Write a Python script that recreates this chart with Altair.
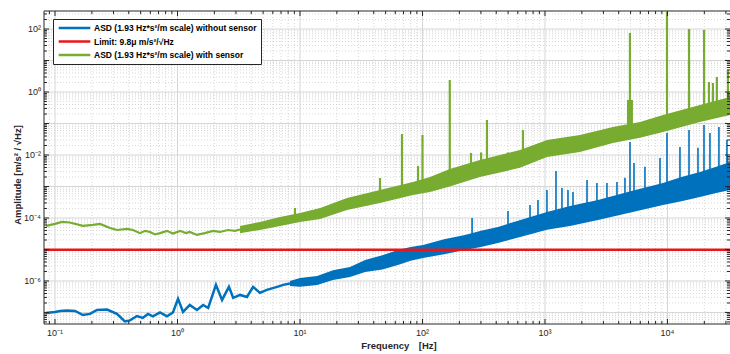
import altair as alt
import pandas as pd

# ---------------- data ----------------
SERIES = ["ASD (1.93 Hz*s\u00b2/m scale) without sensor",
          "Limit: 9.8\u03bc m/s\u00b2/\u221aHz",
          "ASD (1.93 Hz*s\u00b2/m scale) with sensor"]
COLORS = ["#0072BD", "#E8161B", "#77AC30"]
LIMIT = [9.8e-6]

# blue, low-frequency part (a single line)
blue_line_f = [0.0845, 0.1, 0.110, 0.125, 0.146, 0.169, 0.193, 0.220, 0.266, 0.32,
               0.372, 0.409, 0.467, 0.52, 0.574, 0.63, 0.72, 0.82, 0.918, 1.01,
               1.11, 1.26, 1.44, 1.62, 1.78, 2.06, 2.31, 2.63, 2.85, 3.24,
               3.69, 4.14, 4.71, 5.36, 6.5, 7.3, 8.28]
blue_line_a = [9.6e-8, 1.04e-7, 1.12e-7, 1.16e-7, 1.12e-7, 8.3e-8, 9.0e-8, 1.2e-7, 1.24e-7, 9.0e-8,
               5.2e-8, 5.6e-8, 7.7e-8, 6.7e-8, 9.0e-8, 7.5e-8, 1.0e-7, 7.5e-8, 1.0e-7, 2.7e-7,
               1.04e-7, 1.73e-7, 1.2e-7, 1.73e-7, 1.39e-7, 7.5e-7, 2.5e-7, 6.5e-7, 2.9e-7, 3.6e-7,
               3.1e-7, 6.5e-7, 4.2e-7, 5.2e-7, 6.5e-7, 7.5e-7, 8.3e-7]

# blue, noisy part (lower / upper envelope)
blue_band_f = [8.28, 10, 13.8, 18.6, 25.6, 34, 47, 63, 80, 101, 150, 222, 300, 413, 650, 1038,
               1600, 2710, 5000, 9190, 13000, 18400, 25000, 32400]
blue_band_lo = [6.9e-7, 6.5e-7, 7.5e-7, 1.08e-6, 1.34e-6, 1.93e-6, 2.3e-6, 3.2e-6, 4.4e-6, 5.4e-6,
                7.0e-6, 9.6e-6, 1.2e-5, 1.61e-5, 2.6e-5, 4.2e-5, 5.6e-5, 8.6e-5, 1.5e-4, 2.6e-4,
                3.4e-4, 4.6e-4, 6.2e-4, 7.7e-4]
blue_band_hi = [1.0e-6, 1.24e-6, 1.44e-6, 2.2e-6, 2.8e-6, 4.6e-6, 6.5e-6, 9.6e-6, 1.2e-5, 1.39e-5,
                2.1e-5, 2.9e-5, 3.9e-5, 5.2e-5, 9.0e-5, 1.55e-4, 2.4e-4, 3.7e-4, 7.0e-4, 1.29e-3,
                2.0e-3, 2.9e-3, 4.2e-3, 6.0e-3]

# blue spikes
blue_spike_f = [254, 499, 755, 877, 1038, 1230, 1376, 1541, 1693, 2204, 2656, 3206, 3870,
                4498, 4943, 5330, 6550, 8690, 9910, 12650, 14990, 17750, 19870, 22230, 26310, 30600]
blue_spike_top = [1.0e-4, 1.67e-4, 2.6e-4, 3.7e-4, 7.7e-4, 3.1e-3, 8.9e-4, 7.7e-4, 6.7e-4, 1.6e-3,
                  1.3e-3, 1.3e-3, 1.4e-3, 1.9e-3, 2.6e-2, 5.6e-3, 4.2e-3, 8.0e-3, 5.0e-2, 1.8e-2,
                  6.2e-2, 1.7e-2, 8.9e-2, 5.0e-2, 7.7e-2, 3.0e-2]
blue_spike_base = [1.5e-5, 3e-5, 4e-5, 5e-5, 7e-5, 8e-5, 9e-5, 1e-4, 1.1e-4, 1.4e-4, 1.6e-4, 1.8e-4,
                   2.2e-4, 2.5e-4, 2.7e-4, 3e-4, 3.5e-4, 4.5e-4, 5e-4, 6e-4, 7e-4, 8e-4, 9e-4,
                   1.0e-3, 1.2e-3, 1.4e-3]

# green, low-frequency part
green_line_f = [0.0845, 0.1, 0.114, 0.132, 0.169, 0.204, 0.233, 0.281, 0.321, 0.387,
                0.433, 0.494, 0.543, 0.597, 0.655, 0.72, 0.82, 0.918, 1.05, 1.17,
                1.26, 1.44, 1.67, 1.95, 2.22, 2.58, 2.95, 3.24]
green_line_a = [5.6e-5, 6.5e-5, 7.5e-5, 7.2e-5, 5.6e-5, 6.0e-5, 6.5e-5, 4.8e-5, 4.15e-5, 4.5e-5,
                4.15e-5, 3.3e-5, 3.9e-5, 3.6e-5, 3.0e-5, 3.3e-5, 3.9e-5, 3.2e-5, 3.9e-5, 3.3e-5,
                3.6e-5, 2.9e-5, 3.3e-5, 3.9e-5, 3.6e-5, 4.15e-5, 3.9e-5, 4.3e-5]

# green, noisy part
green_band_f = [3.24, 4.71, 6.87, 10, 14.6, 24.2, 45, 83.6, 115, 167, 294, 625, 1038, 1930,
                3590, 5970, 9190, 18400, 32400]
green_band_lo = [3.3e-5, 4.15e-5, 5.6e-5, 7.5e-5, 9.3e-5, 1.79e-4, 3.0e-4, 5.4e-4, 6.7e-4, 1.0e-3,
                 2.0e-3, 3.9e-3, 8.6e-3, 1.24e-2, 2.4e-2, 3.5e-2, 5.4e-2, 0.112, 0.186]
green_band_hi = [5.6e-5, 7.5e-5, 1.08e-4, 1.44e-4, 2.07e-4, 4.3e-4, 7.7e-4, 1.39e-3, 2.0e-3, 3.6e-3,
                 6.9e-3, 1.44e-2, 3.0e-2, 4.3e-2, 7.7e-2, 0.112, 0.186, 0.386, 0.69]

# green spikes
green_spike_f = [9.1, 45, 68, 92, 100, 167, 249, 301, 336, 499, 661, 828, 4940, 9910,
                 15000, 19900, 21800, 23500, 25300, 31200]
green_spike_top = [2.07e-4, 1.86e-3, 4.6e-2, 4.5e-3, 4.3e-2, 2.4, 1.16e-2, 1.2e-2, 0.129, 1.2e-2,
                   6.2e-2, 2.07e-2, 75, 350, 100, 93, 2.07, 1.93, 3.0, 5.0]
green_spike_base = [1.1e-4, 5e-4, 9e-4, 1.0e-3, 1.1e-3, 2e-3, 3e-3, 3.5e-3, 3.7e-3, 5e-3,
                    6e-3, 8e-3, 4e-2, 8e-2, 0.1, 0.15, 0.15, 0.2, 0.2, 0.3]
# broad foot of the 5 kHz green peak
green_foot_f = [4940]
green_foot_base = [4e-2]
green_foot_top = [0.56]

# axes
X_DOMAIN = [0.0813, 32400]
Y_DOMAIN = [4.3e-8, 373]
x_tick_values = [0.1, 1, 10, 100, 1000, 10000]
x_tick_labels = ["10\u207b\u00b9", "10\u2070", "10\u00b9", "10\u00b2", "10\u00b3", "10\u2074"]
y_tick_values = [1e2, 1, 1e-2, 1e-4, 1e-6]
y_tick_labels = ["10\u00b2", "10\u2070", "10\u207b\u00b2", "10\u207b\u2074", "10\u207b\u2076"]
X_TITLE = "Frequency\u2003[Hz]"
Y_TITLE = "Amplitude [m/s\u00b2 / \u221aHz]"
x_major = [10.0 ** k for k in range(-1, 5)]
x_minor = [m * 10.0 ** k for k in range(-2, 5) for m in range(2, 10)
           if X_DOMAIN[0] <= m * 10.0 ** k <= X_DOMAIN[1]]
y_major = [10.0 ** k for k in range(-7, 3)]
y_minor = [m * 10.0 ** k for k in range(-8, 3) for m in range(2, 10)
           if Y_DOMAIN[0] <= m * 10.0 ** k <= Y_DOMAIN[1]]

# ---------------- chart ----------------
W, H = 686, 313
FONT = "Liberation Sans"
AX = "#262626"

xs = alt.Scale(type="log", domain=X_DOMAIN, nice=False)
ys = alt.Scale(type="log", domain=Y_DOMAIN, nice=False)
cs = alt.Scale(domain=SERIES, range=COLORS)

legend = alt.Legend(title=None, orient="none", legendX=9, legendY=8, direction="vertical",
                    strokeColor=AX, fillColor="white", padding=4, symbolType="stroke",
                    symbolSize=1000, symbolStrokeWidth=2.5, labelFont=FONT, labelFontSize=8.5,
                    labelFontWeight="bold", labelColor="black", labelLimit=500, rowPadding=3.5,
                    labelOffset=2, clipHeight=10)


def vdf(vals):
    return pd.DataFrame({"v": vals})


def X(field):
    return alt.X(field, scale=xs, axis=None)


def Y(field):
    return alt.Y(field, scale=ys, axis=None)


grid_minor_x = alt.Chart(vdf(x_minor)).mark_rule(color="#c8c8c8", strokeWidth=0.7, strokeDash=[1, 2]).encode(x=X("v:Q"))
grid_minor_y = alt.Chart(vdf(y_minor)).mark_rule(color="#c8c8c8", strokeWidth=0.7, strokeDash=[1, 2]).encode(y=Y("v:Q"))
grid_major_x = alt.Chart(vdf(x_major)).mark_rule(color="#d6d6d6", strokeWidth=1).encode(x=X("v:Q"))
grid_major_y = alt.Chart(vdf(y_major)).mark_rule(color="#d6d6d6", strokeWidth=1).encode(y=Y("v:Q"))

blue_band = alt.Chart(pd.DataFrame({"f": blue_band_f, "lo": blue_band_lo, "hi": blue_band_hi})).mark_area(
    color=COLORS[0], opacity=1).encode(x=X("f:Q"), y=Y("lo:Q"), y2="hi:Q")
blue_spikes = alt.Chart(pd.DataFrame({"f": blue_spike_f, "b": blue_spike_base, "t": blue_spike_top})).mark_rule(
    color=COLORS[0], strokeWidth=1.6).encode(x=X("f:Q"), y=Y("b:Q"), y2="t:Q")
blue_line = alt.Chart(pd.DataFrame({"f": blue_line_f, "a": blue_line_a, "s": SERIES[0]})).mark_line(
    strokeWidth=2.5).encode(x=X("f:Q"), y=Y("a:Q"), color=alt.Color("s:N", scale=cs, legend=legend))

limit = alt.Chart(pd.DataFrame({"a": LIMIT, "s": [SERIES[1]]})).mark_rule(strokeWidth=2.5).encode(
    y=Y("a:Q"), color=alt.Color("s:N", scale=cs, legend=legend))

green_band = alt.Chart(pd.DataFrame({"f": green_band_f, "lo": green_band_lo, "hi": green_band_hi})).mark_area(
    color=COLORS[2], opacity=1).encode(x=X("f:Q"), y=Y("lo:Q"), y2="hi:Q")
green_spikes = alt.Chart(pd.DataFrame({"f": green_spike_f, "b": green_spike_base, "t": green_spike_top})).mark_rule(
    color=COLORS[2], strokeWidth=2.2).encode(x=X("f:Q"), y=Y("b:Q"), y2="t:Q")
green_foot = alt.Chart(pd.DataFrame({"f": green_foot_f, "b": green_foot_base, "t": green_foot_top})).mark_rule(
    color=COLORS[2], strokeWidth=6).encode(x=X("f:Q"), y=Y("b:Q"), y2="t:Q")
green_line = alt.Chart(pd.DataFrame({"f": green_line_f, "a": green_line_a, "s": SERIES[2]})).mark_line(
    strokeWidth=2.2).encode(x=X("f:Q"), y=Y("a:Q"), color=alt.Color("s:N", scale=cs, legend=legend))


def xticks(vals, y0, y1):
    return alt.Chart(vdf(vals)).mark_rule(color=AX, strokeWidth=1).encode(
        x=X("v:Q"), y=alt.value(y0), y2=alt.value(y1))


def yticks(vals, x0, x1):
    return alt.Chart(vdf(vals)).mark_rule(color=AX, strokeWidth=1).encode(
        y=Y("v:Q"), x=alt.value(x0), x2=alt.value(x1))


ticks = [
    xticks(x_major, H, H - 5), xticks(x_minor, H, H - 3),
    xticks(x_major, 0, 5), xticks(x_minor, 0, 3),
    yticks(y_major, 0, 5), yticks(y_minor, 0, 3),
    yticks(y_major, W, W - 5), yticks(y_minor, W, W - 3),
]

one = pd.DataFrame({"k": [0]})
frame = [
    alt.Chart(one).mark_rule(color=AX, strokeWidth=1).encode(x=alt.value(0), x2=alt.value(0), y=alt.value(0), y2=alt.value(H)),
    alt.Chart(one).mark_rule(color=AX, strokeWidth=1).encode(x=alt.value(0), x2=alt.value(W), y=alt.value(0), y2=alt.value(0)),
    alt.Chart(one).mark_rule(color=AX, strokeWidth=1).encode(x=alt.value(0), x2=alt.value(W), y=alt.value(H), y2=alt.value(H)),
]

x_labels = alt.Chart(pd.DataFrame({"v": x_tick_values, "t": x_tick_labels})).mark_text(
    font=FONT, fontSize=9, color=AX, align="center", baseline="top").encode(
    x=X("v:Q"), y=alt.value(H + 5), text="t:N")
y_labels = alt.Chart(pd.DataFrame({"v": y_tick_values, "t": y_tick_labels})).mark_text(
    font=FONT, fontSize=9, color=AX, align="right", baseline="middle").encode(
    y=Y("v:Q"), x=alt.value(-3), text="t:N")
x_title = alt.Chart(pd.DataFrame({"t": [X_TITLE]})).mark_text(
    font=FONT, fontSize=9.5, fontWeight="bold", color=AX, align="center", baseline="middle").encode(
    x=alt.value(355), y=alt.value(H + 22), text="t:N")
y_title = alt.Chart(pd.DataFrame({"t": [Y_TITLE]})).mark_text(
    font=FONT, fontSize=9.5, fontWeight="bold", color=AX, align="center", baseline="middle", angle=270).encode(
    x=alt.value(-26), y=alt.value(164), text="t:N")

chart = alt.layer(
    grid_minor_x, grid_minor_y, grid_major_x, grid_major_y,
    blue_band, blue_spikes, blue_line, limit,
    green_band, green_foot, green_spikes, green_line,
    *ticks, *frame, x_labels, y_labels, x_title, y_title,
).properties(
    width=W, height=H,
    padding={"left": 44, "top": 11, "right": 0, "bottom": 30},
    autosize=alt.AutoSizeParams(type="none"),
    background="white",
).configure_view(stroke=None)

chart.save("out.html", embed_options={"renderer": "svg", "actions": False})
